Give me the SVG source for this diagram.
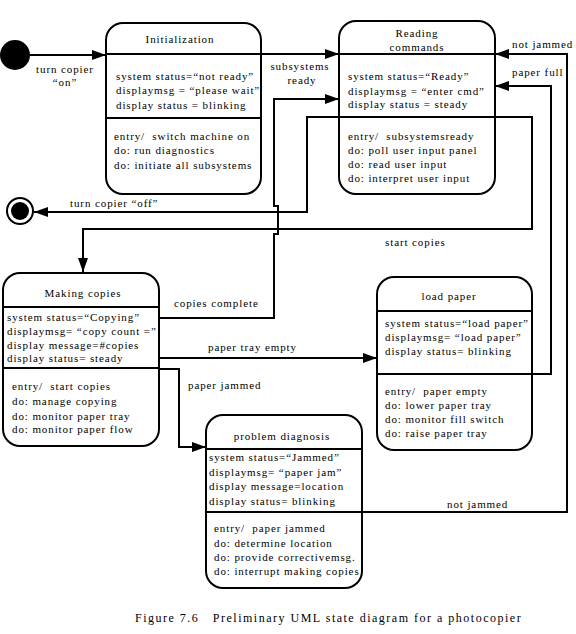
<svg xmlns="http://www.w3.org/2000/svg" width="576" height="634" viewBox="0 0 576 634">
<style>
text{font-family:"Liberation Serif","Times New Roman",serif;font-size:11px;letter-spacing:0.9px;fill:#000;white-space:pre}
.box{fill:#fff;stroke:#000;stroke-width:2}
.div{stroke:#000;stroke-width:2}
.c{fill:none;stroke:#000;stroke-width:2}
.m{text-anchor:middle}
.cap{font-size:12px;letter-spacing:1.5px}
</style>
<defs>
<marker id="ah" viewBox="0 0 14 10" refX="14" refY="5" markerWidth="14" markerHeight="10" markerUnits="userSpaceOnUse" orient="auto">
<path d="M0,0 L14,5 L0,10 z" fill="#000"/>
</marker>
</defs>
<rect width="576" height="634" fill="#fff"/>
<g id="connectors">
<path class="c" d="M30,55 H106" marker-end="url(#ah)"/>
<path class="c" d="M261,54 H339" marker-end="url(#ah)"/>
<path class="c" d="M160,318 H274 V234 H278 V206 H274 V99 H339" marker-end="url(#ah)"/>
<path class="c" d="M339,117 H307 V212 H34" marker-end="url(#ah)"/>
<path class="c" d="M495,117 H532 V229 H83 V272" marker-end="url(#ah)"/>
<path class="c" d="M160,358 H377" marker-end="url(#ah)"/>
<path class="c" d="M159,369 H179 V447 H206" marker-end="url(#ah)"/>
<path class="c" d="M532,374 H551 V86 H495" marker-end="url(#ah)"/>
<path class="c" d="M362,512 H567 V54 H495" marker-end="url(#ah)"/>
<text class="m" x="65" y="73">turn copier</text>
<text class="m" x="65" y="86">“on”</text>
<text class="m" x="300" y="70">subsystems</text>
<text class="m" x="302" y="84">ready</text>
<text x="70" y="207">turn copier “off”</text>
<text x="385" y="246">start copies</text>
<text x="174" y="307">copies complete</text>
<text x="208" y="351">paper tray empty</text>
<text x="188" y="389">paper jammed</text>
<text x="447" y="508">not jammed</text>
<text x="512" y="48">not jammed</text>
<text x="512" y="76">paper full</text>
</g>
<g id="initial">
<circle cx="15" cy="55" r="15" fill="#000"/>
</g>
<g id="final">
<circle cx="20" cy="211" r="13" fill="#fff" stroke="#000" stroke-width="2"/>
<circle cx="20" cy="211" r="9" fill="#000"/>
</g>
<g id="initialization">
<rect class="box" x="106" y="23" width="155" height="171" rx="17"/>
<line class="div" x1="106" y1="54" x2="261" y2="54"/>
<line class="div" x1="106" y1="118" x2="261" y2="118"/>
<text class="m" x="180" y="43">Initialization</text>
<text x="116" y="80">system status=“not ready”</text>
<text x="116" y="94">displaymsg = “please wait”</text>
<text x="116" y="109">display status = blinking</text>
<text x="114" y="140">entry/  switch machine on</text>
<text x="114" y="154">do: run diagnostics</text>
<text x="114" y="169">do: initiate all subsystems</text>
</g>
<g id="reading">
<rect class="box" x="339" y="21" width="156" height="173" rx="17"/>
<line class="div" x1="339" y1="54" x2="495" y2="54"/>
<line class="div" x1="339" y1="117" x2="495" y2="117"/>
<text class="m" x="417" y="37">Reading</text>
<text class="m" x="417" y="51">commands</text>
<text x="348" y="80">system status=“Ready”</text>
<text x="348" y="95">displaymsg = “enter cmd”</text>
<text x="348" y="108">display status = steady</text>
<text x="348" y="140">entry/  subsystemsready</text>
<text x="348" y="154">do: poll user input panel</text>
<text x="348" y="168">do: read user input</text>
<text x="348" y="182">do: interpret user input</text>
</g>
<g id="making">
<rect class="box" x="3" y="273" width="156" height="173" rx="17"/>
<line class="div" x1="3" y1="307" x2="159" y2="307"/>
<line class="div" x1="3" y1="368" x2="159" y2="368"/>
<text class="m" x="83" y="297">Making copies</text>
<text x="7" y="321">system status=“Copying”</text>
<text x="7" y="335">displaymsg= “copy count =”</text>
<text x="7" y="349">display message=#copies</text>
<text x="7" y="362">display status= steady</text>
<text x="12" y="390">entry/  start copies</text>
<text x="12" y="405">do: manage copying</text>
<text x="12" y="420">do: monitor paper tray</text>
<text x="12" y="433">do: monitor paper flow</text>
</g>
<g id="loadpaper">
<rect class="box" x="377" y="277" width="155" height="173" rx="17"/>
<line class="div" x1="377" y1="311" x2="532" y2="311"/>
<line class="div" x1="377" y1="374" x2="532" y2="374"/>
<text class="m" x="449" y="300">load paper</text>
<text x="385" y="327">system status=“load paper”</text>
<text x="385" y="341">displaymsg= “load paper”</text>
<text x="385" y="355">display status= blinking</text>
<text x="385" y="395">entry/  paper empty</text>
<text x="385" y="409">do: lower paper tray</text>
<text x="385" y="423">do: monitor fill switch</text>
<text x="385" y="437">do: raise paper tray</text>
</g>
<g id="problem">
<rect class="box" x="206" y="415" width="156" height="173" rx="17"/>
<line class="div" x1="206" y1="449" x2="362" y2="449"/>
<line class="div" x1="206" y1="512" x2="362" y2="512"/>
<text class="m" x="282" y="440">problem diagnosis</text>
<text x="209" y="461">system status=“Jammed”</text>
<text x="209" y="476">displaymsg= “paper jam”</text>
<text x="209" y="490">display message=location</text>
<text x="209" y="505">display status= blinking</text>
<text x="214" y="532">entry/  paper jammed</text>
<text x="214" y="547">do: determine location</text>
<text x="214" y="561">do: provide correctivemsg.</text>
<text x="214" y="575">do: interrupt making copies</text>
</g>
<text class="cap" x="135" y="622">Figure 7.6   Preliminary UML state diagram for a photocopier</text>
</svg>
